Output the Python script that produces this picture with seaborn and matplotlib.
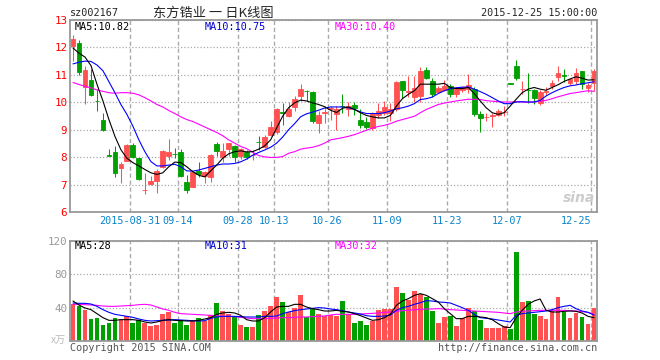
import numpy as np
import pandas as pd
import matplotlib
matplotlib.use('Agg')
import matplotlib.pyplot as plt
import seaborn as sns

# trading days shown (2015-08-17 .. 2015-12-25, exchange holidays removed)
holidays = ['2015-09-03', '2015-09-04', '2015-10-01', '2015-10-02',
            '2015-10-05', '2015-10-06', '2015-10-07']
days = pd.bdate_range('2015-08-17', '2015-12-25')
days = days[~days.isin(pd.to_datetime(holidays))]

tick_dates = ['2015-08-31', '2015-09-14', '2015-09-28', '2015-10-13', '2015-10-26',
              '2015-11-09', '2015-11-23', '2015-12-07', '2015-12-25']
tick_labels = ['2015-08-31', '09-14', '09-28', '10-13', '10-26',
               '11-09', '11-23', '12-07', '12-25']

opens = [12.07, 12.17, 10.54, 10.81, 10.05, 9.37, 8.06, 8.19, 7.61, 7.87,
         8.45, 7.96, 6.80, 7.01, 7.13, 7.63, 8.04, 8.12, 8.19, 7.09,
         6.91, 7.50, 7.30, 7.28, 8.48, 8.02, 8.30, 8.41, 8.05, 8.20,
         8.06, 8.56, 8.36, 8.82, 8.92, 9.63, 9.49, 9.84, 10.23, 10.42,
         10.39, 9.25, 9.62, 9.75, 9.59, 9.88, 9.74, 9.90, 9.37, 9.29,
         9.06, 9.52, 9.62, 9.60, 9.74, 10.76, 10.39, 10.20, 10.23, 11.19,
         10.78, 10.36, 10.44, 10.58, 10.29, 10.44, 10.48, 10.48, 9.58, 9.45,
         9.50, 9.55, 9.63, 10.69, 11.34, 10.48, 10.46, 10.44, 9.96, 10.38,
         10.60, 10.93, 10.99, 10.72, 10.78, 11.13, 10.51, 10.70]
closes = [12.32, 11.09, 11.18, 10.27, 10.03, 8.98, 8.05, 7.43, 7.75, 8.46,
          8.02, 7.20, 6.82, 7.12, 7.49, 8.24, 8.19, 8.10, 7.32, 6.82,
          7.47, 7.38, 7.45, 8.08, 8.24, 8.24, 8.51, 8.02, 8.28, 8.00,
          8.08, 8.54, 8.73, 9.09, 9.77, 9.60, 9.77, 10.13, 10.48, 10.40,
          9.31, 9.55, 9.65, 9.80, 9.74, 9.85, 9.86, 9.78, 9.16, 9.09,
          9.58, 9.68, 9.83, 9.74, 10.75, 10.46, 10.41, 10.51, 11.15, 10.88,
          10.29, 10.51, 10.60, 10.29, 10.48, 10.57, 10.64, 9.58, 9.43, 9.47,
          9.53, 9.68, 9.65, 10.68, 10.88, 10.50, 10.44, 10.15, 10.39, 10.41,
          10.72, 11.06, 10.96, 10.85, 11.07, 10.66, 10.64, 11.13]
highs = [12.44, 12.28, 11.34, 11.20, 10.48, 9.62, 8.28, 8.39, 7.84, 8.48,
         8.50, 7.98, 7.41, 7.32, 7.55, 8.26, 8.67, 8.33, 8.30, 7.35,
         7.50, 7.84, 7.50, 8.10, 8.57, 8.50, 8.53, 8.45, 8.32, 8.25,
         8.27, 8.78, 8.80, 9.30, 9.80, 9.98, 10.00, 10.23, 10.66, 10.43,
         10.42, 9.68, 9.86, 9.85, 9.86, 10.32, 10.00, 10.02, 9.74, 9.45,
         9.63, 9.98, 10.05, 9.98, 10.76, 10.78, 10.97, 10.97, 11.27, 11.30,
         10.88, 10.58, 10.80, 10.68, 10.55, 10.60, 11.03, 10.55, 9.70, 9.60,
         9.60, 9.75, 9.86, 10.69, 11.55, 10.76, 11.05, 10.48, 10.44, 10.55,
         10.80, 11.31, 11.20, 10.90, 11.24, 11.15, 10.70, 11.20]
lows = [11.50, 11.00, 9.92, 10.22, 9.70, 8.95, 8.05, 7.28, 7.06, 7.85,
        7.98, 7.17, 6.67, 7.00, 6.69, 7.60, 7.90, 7.98, 7.28, 6.69,
        6.90, 7.28, 7.05, 7.10, 8.04, 7.84, 8.05, 7.83, 7.95, 7.92,
        7.90, 8.27, 8.33, 8.76, 8.85, 9.19, 9.45, 9.70, 10.05, 10.05,
        9.26, 8.88, 9.25, 9.35, 8.98, 9.62, 9.50, 9.52, 9.08, 9.02,
        9.00, 9.43, 9.55, 9.30, 9.70, 10.17, 10.20, 10.00, 10.00, 10.85,
        10.20, 10.33, 10.40, 10.20, 10.20, 10.36, 10.33, 9.50, 8.92, 9.33,
        9.10, 9.50, 9.50, 10.68, 10.81, 10.29, 9.99, 9.93, 9.90, 10.25,
        10.48, 10.78, 10.75, 10.62, 10.66, 10.50, 10.36, 10.40]

ma5 = [11.98, 11.79, 11.65, 11.34, 10.66, 10.05, 9.37, 8.76, 8.27, 7.96,
       7.80, 7.68, 7.55, 7.43, 7.37, 7.43, 7.65, 7.82, 7.80, 7.65,
       7.47, 7.34, 7.28, 7.50, 7.71, 7.96, 8.12, 8.20, 8.23, 8.19,
       8.20, 8.29, 8.41, 8.63, 9.06, 9.49, 9.80, 9.98, 10.08, 10.05,
       9.98, 9.92, 9.84, 9.71, 9.63, 9.78, 9.83, 9.74, 9.62, 9.52,
       9.47, 9.43, 9.43, 9.52, 9.86, 10.13, 10.29, 10.42, 10.66, 10.66,
       10.66, 10.66, 10.69, 10.54, 10.50, 10.50, 10.54, 10.32, 10.05, 9.80,
       9.62, 9.56, 9.62, 9.86, 10.11, 10.35, 10.48, 10.54, 10.48, 10.44,
       10.54, 10.64, 10.76, 10.85, 10.93, 10.88, 10.81, 10.82]
ma10 = [11.40, 11.46, 11.50, 11.49, 11.36, 11.15, 10.75, 10.35, 9.92, 9.56,
        9.13, 8.63, 8.20, 7.84, 7.68, 7.68, 7.71, 7.74, 7.65, 7.50,
        7.49, 7.53, 7.59, 7.65, 7.71, 7.75, 7.75, 7.77, 7.83, 7.93,
        8.07, 8.17, 8.26, 8.36, 8.51, 8.73, 9.00, 9.22, 9.47, 9.58,
        9.64, 9.71, 9.79, 9.83, 9.83, 9.83, 9.80, 9.74, 9.65, 9.59,
        9.59, 9.59, 9.62, 9.68, 9.76, 9.80, 9.86, 9.95, 10.10, 10.13,
        10.19, 10.32, 10.42, 10.49, 10.53, 10.55, 10.56, 10.48, 10.39, 10.29,
        10.17, 10.05, 9.95, 9.95, 10.01, 10.02, 10.01, 10.01, 10.07, 10.23,
        10.35, 10.45, 10.54, 10.60, 10.63, 10.68, 10.71, 10.75]
ma30 = [10.72, 10.65, 10.58, 10.53, 10.45, 10.40, 10.35, 10.33, 10.35, 10.35,
        10.33, 10.27, 10.17, 10.05, 9.92, 9.83, 9.70, 9.59, 9.47, 9.37,
        9.30, 9.20, 9.10, 9.00, 8.90, 8.78, 8.63, 8.51, 8.39, 8.31,
        8.18, 8.06, 8.01, 7.99, 7.99, 8.02, 8.14, 8.20, 8.29, 8.33,
        8.36, 8.42, 8.51, 8.63, 8.67, 8.71, 8.76, 8.82, 8.90, 8.98,
        9.06, 9.12, 9.16, 9.22, 9.31, 9.37, 9.43, 9.49, 9.62, 9.74,
        9.83, 9.92, 9.97, 10.01, 10.05, 10.08, 10.11, 10.11, 10.10, 10.06,
        10.04, 10.02, 10.01, 10.01, 10.02, 10.01, 10.00, 10.01, 10.04, 10.07,
        10.13, 10.20, 10.26, 10.32, 10.35, 10.39, 10.42, 10.40]

vol = [44, 42.4, 36.8, 26, 28, 18.8, 21.2, 28, 26.8, 29.6,
       21.2, 25.6, 21.2, 17.6, 18.8, 32, 34.8, 21.2, 24.8, 18.8,
       24, 28, 24, 30.8, 45.2, 36, 32.8, 29.6, 18.8, 16.8,
       16.8, 30.8, 36, 41.6, 52.4, 46.8, 34.8, 39.6, 54.8, 28.8,
       38.8, 32, 30.4, 30.8, 29.6, 48, 32.8, 21.6, 24, 18.8,
       24, 36.8, 38, 38, 64.8, 57.6, 48.8, 59.6, 56.8, 52.8,
       36, 21.6, 28.8, 29.6, 17.6, 27.6, 40, 35.6, 24.8, 15.6,
       15.6, 15.6, 17.6, 14, 106.8, 46.8, 48, 32.8, 29.6, 26,
       35.6, 52.8, 34.8, 27.6, 33.6, 28.8, 20, 39.6]
vma5 = [48, 43.2, 39.6, 37.6, 32.8, 28, 24.8, 24.8, 25.6, 25.6,
        25.6, 24.8, 22.8, 21.6, 22.8, 24.8, 25.6, 24.8, 24.4, 24,
        24, 24.8, 26.4, 28, 32, 33.6, 34.4, 33.6, 30.8, 25.6,
        24, 24, 28, 34.8, 40.8, 41.6, 41.6, 44, 44, 40.8,
        38.8, 37.6, 36, 36, 36.8, 35.6, 34.8, 32.8, 30.4, 27.6,
        24.8, 25.6, 28, 32, 42.8, 48, 50.8, 54.8, 56.8, 54.8,
        50.8, 46.8, 38.8, 32.8, 26.8, 26.8, 29.6, 29.6, 28.8, 28,
        25.6, 20.8, 16.8, 16, 28, 36.8, 44, 48, 50.4, 36.8,
        34.8, 34.8, 35.6, 36, 35.6, 33.6, 29.6, 28]
vma10 = [45.6, 45.2, 45.2, 44.4, 41.6, 37.6, 34.4, 32, 30.8, 29.6,
         28.4, 26.4, 24.8, 24, 24.4, 24.8, 25.2, 25.6, 25.2, 24.8,
         24.4, 24, 24.4, 27.2, 28.8, 29.6, 29.6, 29.6, 29.2, 28.8,
         28.8, 28.8, 29.6, 29.6, 30, 32.8, 34.8, 36.4, 37.6, 38.4,
         39.2, 40, 39.6, 38.4, 37.6, 36.4, 34.8, 33.6, 32.4, 30.4,
         29.6, 29.6, 30, 31.2, 36.8, 40, 41.6, 44, 46, 48.4,
         48, 46.8, 46.4, 45.6, 42.8, 40, 36.8, 32, 28, 27.2,
         26.4, 25.2, 24, 22.8, 30.8, 32.8, 33.6, 34.4, 35.2, 36,
         37.6, 40, 41.6, 42.8, 38.8, 36, 34.4, 31]
vma30 = [44, 44, 43.6, 43.2, 42.8, 42, 41.6, 41.6, 42, 42.4,
         42.8, 43.6, 44, 43.2, 40.8, 38.4, 36.8, 34.4, 32.8, 32.4,
         32, 31.6, 31.2, 30.8, 30.4, 29.6, 29.6, 29.2, 28.4, 27.6,
         26.8, 26.8, 26.8, 27.2, 27.6, 28, 28, 28.4, 28.8, 28.8,
         29.2, 29.6, 30, 31.2, 32, 32, 32, 32, 32.4, 32.8,
         33.2, 33.6, 34.4, 34.8, 35.6, 36.4, 36.8, 37.6, 38, 38.4,
         38.4, 38.8, 38.4, 37.6, 37.2, 36.8, 36.4, 36, 35.6, 35.2,
         34.8, 34.4, 33.6, 32.8, 34.8, 35.6, 36, 36.4, 36.8, 36.8,
         36.8, 36.8, 36.8, 36.4, 36, 35.2, 34.4, 32]

RED = '#ff5151'
GREEN = '#00a000'
GRID = '#aaaaaa'
SPINE = '#999999'

sns.set_style('white')
plt.rcParams['font.family'] = ['DejaVu Sans Mono', 'Noto Sans CJK SC']
FS = 7.3

W, H = 660, 360
fig = plt.figure(figsize=(6.6, 3.6), dpi=100)

def fx(px):
    return px / W

def fy(py):
    return 1 - py / H

ax = fig.add_axes([fx(70), fy(212), (597 - 70) / W, (212 - 20) / H])
axv = fig.add_axes([fx(70), fy(341), (597 - 70) / W, (341 - 241) / H])

idx = np.arange(len(days))
o = np.array(opens)
c = np.array(closes)
colors = np.where(c >= o, RED, GREEN)

# candles
ax.vlines(idx, lows, highs, colors=colors, lw=0.75, zorder=2)
ax.bar(idx, np.abs(c - o), bottom=np.minimum(o, c), width=0.8,
       color=colors, edgecolor=colors, linewidth=0.6, zorder=2)

sns.lineplot(x=idx, y=ma30, ax=ax, color='#ff00ff', lw=0.8, zorder=3)
sns.lineplot(x=idx, y=ma10, ax=ax, color='#0000ff', lw=0.8, zorder=3)
sns.lineplot(x=idx, y=ma5, ax=ax, color='black', lw=0.8, zorder=3)

# volume
axv.bar(idx, vol, width=0.8, color=colors, linewidth=0, zorder=2)
sns.lineplot(x=idx, y=vma30, ax=axv, color='#ff00ff', lw=0.8, zorder=3)
sns.lineplot(x=idx, y=vma10, ax=axv, color='#0000ff', lw=0.8, zorder=3)
sns.lineplot(x=idx, y=vma5, ax=axv, color='black', lw=0.8, zorder=3)

day_str = list(days.strftime('%Y-%m-%d'))
tick_pos = [day_str.index(d) - 0.5 for d in tick_dates]

for a in (ax, axv):
    a.set_xlim(-0.5, len(days) - 0.5)
    a.set_xticks(tick_pos)
    a.grid(axis='x', color=GRID, lw=1, linestyle=(0, (3, 2)), zorder=0)
    a.grid(axis='y', color=GRID, lw=0.9, linestyle=(0, (1, 1.6)), zorder=0)
    a.set_xlabel('')
    a.set_ylabel('')
    for s in a.spines.values():
        s.set_color(SPINE)
        s.set_linewidth(1.3)
    a.tick_params(length=0)

ax.set_ylim(6, 13)
ax.set_yticks(range(6, 14))
ax.tick_params(axis='y', colors='#ff0000', labelsize=FS + 0.5, pad=2)
ax.tick_params(axis='x', colors='#0a84cc', labelsize=FS, pad=3)
ax.set_xticklabels(tick_labels)
ax.get_xticklabels()[-1].set_ha('right')

axv.set_ylim(0, 120)
axv.set_yticks([40, 80, 120])
axv.tick_params(axis='y', colors='#999999', labelsize=FS + 0.5, pad=2)
axv.set_xticklabels([])

# header
fig.text(fx(70), fy(13), 'sz002167', fontsize=FS, va='center', ha='left')
fig.text(fx(213), fy(13), '东方锆业 一 日K线图', fontsize=9.5, va='center', ha='center',
         family=['Noto Sans CJK SC', 'DejaVu Sans'])
fig.text(fx(597), fy(13), '2015-12-25 15:00:00', fontsize=FS, va='center', ha='right')

# moving average captions
fig.text(fx(75), fy(27), f'MA5:{ma5[-1]:.2f}', fontsize=FS, va='center', color='black')
fig.text(fx(205), fy(27), f'MA10:{ma10[-1]:.2f}', fontsize=FS, va='center', color='#0000cc')
fig.text(fx(335), fy(27), f'MA30:{ma30[-1]:.2f}', fontsize=FS, va='center', color='#ff00ff')
fig.text(fx(75), fy(246), f'MA5:{vma5[-1]:.0f}', fontsize=FS, va='center', color='black')
fig.text(fx(205), fy(246), f'MA10:{vma10[-1]:.0f}', fontsize=FS, va='center', color='#0000cc')
fig.text(fx(335), fy(246), f'MA30:{vma30[-1]:.0f}', fontsize=FS, va='center', color='#ff00ff')

fig.text(fx(66), fy(340), 'x万', fontsize=FS, va='center', ha='right', color='#bbbbbb',
         family=['Noto Sans CJK SC', 'DejaVu Sans'])

# watermark
fig.text(fx(595), fy(198), 'sina', fontsize=10, style='italic', weight='bold',
         color='#cccccc', ha='right', va='center', family='DejaVu Sans')

# footer
fig.text(fx(70), fy(348), 'Copyright 2015 SINA.COM', fontsize=FS, va='center', color='#555555')
fig.text(fx(597), fy(348), 'http://finance.sina.com.cn', fontsize=FS, va='center',
         ha='right', color='#555555')

fig.savefig('out.png', dpi=100)
